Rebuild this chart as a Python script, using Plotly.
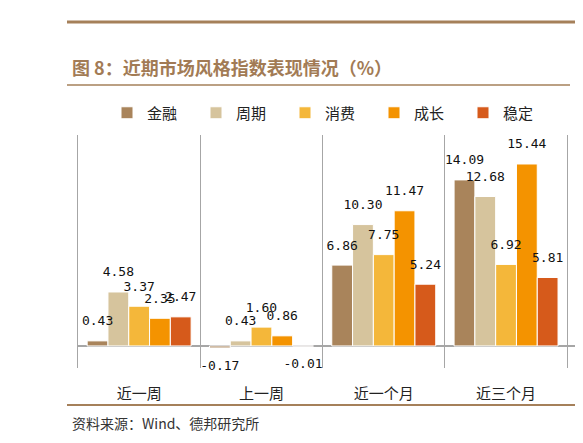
import plotly.graph_objects as go

periods = ["近一周", "上一周", "近一个月", "近三个月"]
styles = ["金融", "周期", "消费", "成长", "稳定"]
finance = [0.43, -0.17, 6.86, 14.09]
cyclical = [4.58, 0.43, 10.30, 12.68]
consumer = [3.37, 1.60, 7.75, 6.92]
growth = [2.35, 0.86, 11.47, 15.44]
stable = [2.47, -0.01, 5.24, 5.81]
colors = ["#A9845B", "#D6C49D", "#F4B73A", "#F49300", "#D65A1B"]

# page has an 8px body margin, so work in screen pixels and shift
OFF = 8
W, H = 583 - OFF, 443 - OFF
L, R, T, B = 78, 577, 135, 368  # plot area, screen pixels


def px(x):
    return (x - L) / (R - L)


def py(y):
    return (B - y) / (B - T)


fig = go.Figure()
series = [finance, cyclical, consumer, growth, stable]
for i, (name, vals, c) in enumerate(zip(styles, series, colors)):
    fig.add_trace(go.Bar(
        name=name, x=periods, y=vals, offsetgroup=str(i),
        marker=dict(color=c, line=dict(color="white", width=1)),
    ))
# value labels, on top of every bar
for i, vals in enumerate(series):
    fig.add_trace(go.Scatter(
        x=periods, y=vals, offsetgroup=str(i), mode="markers+text", showlegend=False,
        hoverinfo="skip", cliponaxis=False,
        marker=dict(size=18, color="rgba(0,0,0,0)"),
        text=[f"{v:.2f}" for v in vals],
        textposition=["top center" if v >= 0 else "bottom center" for v in vals],
        textfont=dict(family="DejaVu Sans Mono", size=13, color="#111"),
    ))

line_col = "#A5805A"
shapes = [
    dict(type="line", xref="paper", yref="paper", x0=px(67), x1=px(583), y0=py(22), y1=py(22),
         line=dict(color=line_col, width=3)),
    dict(type="line", xref="paper", yref="paper", x0=px(67), x1=px(570), y0=py(85), y1=py(85),
         line=dict(color=line_col, width=1.5)),
    dict(type="line", xref="paper", yref="paper", x0=px(67), x1=px(583), y0=py(405), y1=py(405),
         line=dict(color=line_col, width=2)),
]

annotations = [
    dict(text="<b>图 8：近期市场风格指数表现情况（%）</b>", xref="paper", yref="paper",
         x=px(70), y=py(67), xanchor="left", yanchor="middle", showarrow=False,
         font=dict(family="Noto Sans CJK SC", size=18, color="#A27B55")),
    dict(text="资料来源：Wind、德邦研究所", xref="paper", yref="paper",
         x=px(70), y=py(423), xanchor="left", yanchor="middle", showarrow=False,
         font=dict(family="Noto Sans CJK SC", size=14, color="#333")),
]

fig.update_layout(
    width=W, height=H, barmode="group", bargap=0.15, bargroupgap=0,
    scattermode="group", scattergap=0.15,
    margin=dict(l=L - OFF, r=W - (R - OFF), t=T - OFF, b=H - (B - OFF)),
    paper_bgcolor="white", plot_bgcolor="white",
    shapes=shapes, annotations=annotations,
    font=dict(family="Noto Sans CJK SC", color="#222"),
    legend=dict(orientation="h", x=px(107), y=py(113), xanchor="left", yanchor="middle",
                font=dict(size=15, color="#222"), entrywidth=44, entrywidthmode="pixels",
                itemwidth=30, traceorder="normal"),
    xaxis=dict(type="category", range=[-0.5, 3.58], tickson="boundaries", showgrid=True,
               gridcolor="#A6A6A6", gridwidth=1, ticks="", ticklabelstandoff=15,
               tickfont=dict(size=15, color="#222"), showline=False),
    yaxis=dict(range=[-1.87, 17.9], showticklabels=False, showgrid=False, zeroline=True,
               zerolinecolor="#A6A6A6", zerolinewidth=1.5, showline=True, linecolor="#A6A6A6",
               linewidth=1),
)

fig.write_html("out.html")
